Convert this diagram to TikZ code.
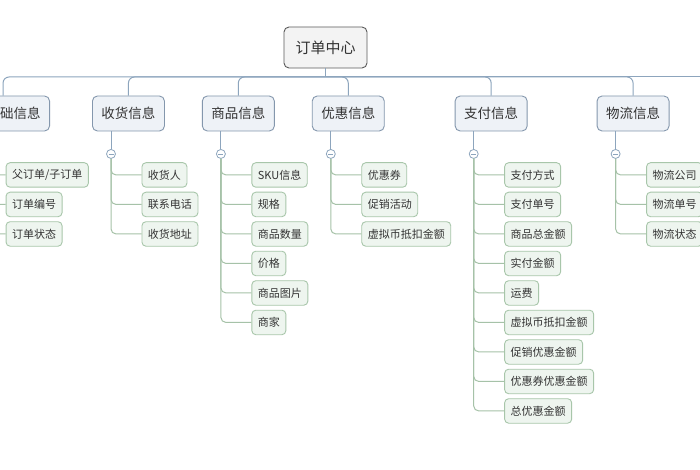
\documentclass[tikz,border=0pt]{standalone}
\usepackage{fontspec}
\setmainfont{Noto Sans CJK SC}
\usetikzlibrary{positioning}
\usepackage{xcolor}
\definecolor{busline}{HTML}{8DA5BD}
\definecolor{topfill}{HTML}{EEF2F7}
\definecolor{topdraw}{HTML}{8497AD}
\definecolor{rootdraw}{HTML}{5A5A5A}
\definecolor{rootfill}{HTML}{F3F3F3}
\definecolor{leaffill}{HTML}{EEF5EF}
\definecolor{leafdraw}{HTML}{A8C6AA}
\definecolor{twigline}{HTML}{A6C2A8}
\definecolor{inktext}{HTML}{333333}

\begin{document}
\begin{tikzpicture}[
    % 1 unit = 1 pixel of the 700x470 canvas, y grows downwards
        x=1pt, y=-1pt,
    % central box
        root/.style={rectangle, draw=rootdraw, fill=rootfill, rounded corners=5pt, line width=0.9pt, minimum width=83pt, minimum height=41pt, inner sep=0pt, text=inktext, font=\fontsize{15}{18}\selectfont},
    % first level boxes
        topic/.style={rectangle, draw=topdraw, fill=topfill, rounded corners=5pt, line width=0.9pt, minimum width=72pt, minimum height=35pt, inner sep=0pt, text=inktext, font=\fontsize{13.5}{16}\selectfont},
    % detail boxes
        leaf/.style={rectangle, draw=leafdraw, fill=leaffill, rounded corners=4pt, line width=0.9pt, minimum height=24.5pt, inner xsep=6pt, inner ysep=0pt, text=inktext, font=\fontsize{11}{13}\selectfont},
    % the small (-) button under each topic
        collapse/.style={circle, draw=busline, fill=white, line width=0.8pt, minimum size=9pt, inner sep=0pt,
            path picture={\draw[busline, line width=0.8pt] ([xshift=-2.5pt]path picture bounding box.center) -- ([xshift=2.5pt]path picture bounding box.center);}},
        bus/.style={draw=busline, line width=1pt, rounded corners=6pt},
        stem/.style={draw=busline, line width=1pt},
        twig/.style={draw=twigline, line width=1pt, rounded corners=5pt}
    ]
    \useasboundingbox (0,0) rectangle (700,470);
    \clip (0,0) rectangle (700,470);
    \fill[white] (0,0) rectangle (700,470);

    % --- ROOT ---
    \node[root] (order) at (325.5,47.5) {订单中心};
    \coordinate (hub) at (325.5,77);
    \coordinate (busend) at (700,77);

    % --- TOPICS ---
    \node[topic, minimum width=93pt, text width=75pt, align=right, anchor=east] (base) at (50,113.5) {础信息};
    \node[topic, right=42pt of base] (recv) {收货信息};
    \node[topic, right=37pt of recv] (goods) {商品信息};
    \node[topic, right=37pt of goods] (promo) {优惠信息};
    \node[topic, right=70pt of promo] (pay) {支付信息};
    \node[topic, right=69pt of pay] (ship) {物流信息};

    % --- BUTTONS ---
    \node[collapse] (kbase) at ([xshift=19pt, yshift=-22.5pt]base.south west) {};
    \node[collapse] (krecv) at ([xshift=19pt, yshift=-22.5pt]recv.south west) {};
    \node[collapse] (kgoods) at ([xshift=19pt, yshift=-22.5pt]goods.south west) {};
    \node[collapse] (kpromo) at ([xshift=19pt, yshift=-22.5pt]promo.south west) {};
    \node[collapse] (kpay) at ([xshift=19pt, yshift=-22.5pt]pay.south west) {};
    \node[collapse] (kship) at ([xshift=19pt, yshift=-22.5pt]ship.south west) {};

    % --- BASE ---
    \node[leaf, anchor=west] (b1) at ([xshift=30.5pt, yshift=-21pt]kbase.center) {父订单/子订单};
    \node[leaf, below=4.1pt of b1.south west, anchor=north west] (b2) {订单编号};
    \node[leaf, below=4.1pt of b2.south west, anchor=north west] (b3) {订单状态};

    % --- RECEIVER ---
    \node[leaf, anchor=west] (r1) at ([xshift=30.5pt, yshift=-21pt]krecv.center) {收货人};
    \node[leaf, below=4.1pt of r1.south west, anchor=north west] (r2) {联系电话};
    \node[leaf, below=4.1pt of r2.south west, anchor=north west] (r3) {收货地址};

    % --- GOODS ---
    \node[leaf, anchor=west] (g1) at ([xshift=30.5pt, yshift=-21pt]kgoods.center) {SKU信息};
    \node[leaf, below=4.1pt of g1.south west, anchor=north west] (g2) {规格};
    \node[leaf, below=4.1pt of g2.south west, anchor=north west] (g3) {商品数量};
    \node[leaf, below=4.1pt of g3.south west, anchor=north west] (g4) {价格};
    \node[leaf, below=4.1pt of g4.south west, anchor=north west] (g5) {商品图片};
    \node[leaf, below=4.1pt of g5.south west, anchor=north west] (g6) {商家};

    % --- DISCOUNTS ---
    \node[leaf, anchor=west] (p1) at ([xshift=30.5pt, yshift=-21pt]kpromo.center) {优惠券};
    \node[leaf, below=4.1pt of p1.south west, anchor=north west] (p2) {促销活动};
    \node[leaf, below=4.1pt of p2.south west, anchor=north west] (p3) {虚拟币抵扣金额};

    % --- PAYMENT ---
    \node[leaf, anchor=west] (m1) at ([xshift=30.5pt, yshift=-21pt]kpay.center) {支付方式};
    \node[leaf, below=4.1pt of m1.south west, anchor=north west] (m2) {支付单号};
    \node[leaf, below=4.1pt of m2.south west, anchor=north west] (m3) {商品总金额};
    \node[leaf, below=4.1pt of m3.south west, anchor=north west] (m4) {实付金额};
    \node[leaf, below=4.1pt of m4.south west, anchor=north west] (m5) {运费};
    \node[leaf, below=4.1pt of m5.south west, anchor=north west] (m6) {虚拟币抵扣金额};
    \node[leaf, below=4.1pt of m6.south west, anchor=north west] (m7) {促销优惠金额};
    \node[leaf, below=4.1pt of m7.south west, anchor=north west] (m8) {优惠券优惠金额};
    \node[leaf, below=4.1pt of m8.south west, anchor=north west] (m9) {总优惠金额};

    % --- SHIPPING ---
    \node[leaf, anchor=west] (s1) at ([xshift=30.5pt, yshift=-21pt]kship.center) {物流公司};
    \node[leaf, below=4.1pt of s1.south west, anchor=north west] (s2) {物流单号};
    \node[leaf, below=4.1pt of s2.south west, anchor=north west] (s3) {物流状态};

    % --- LINKS ---
    \draw[stem] (order.south) -- (hub);
    \draw[stem] (hub) -- (busend);
    \draw[bus] (hub) -| (base.north);
    \draw[bus] (hub) -| (recv.north);
    \draw[bus] (hub) -| (goods.north);
    \draw[bus] (hub) -| (promo.north);
    \draw[bus] (hub) -| (pay.north);
    \draw[bus] (hub) -| (ship.north);

    \draw[stem] (kbase |- base.south) -- (kbase.north);
    \draw[stem] (krecv |- recv.south) -- (krecv.north);
    \draw[stem] (kgoods |- goods.south) -- (kgoods.north);
    \draw[stem] (kpromo |- promo.south) -- (kpromo.north);
    \draw[stem] (kpay |- pay.south) -- (kpay.north);
    \draw[stem] (kship |- ship.south) -- (kship.north);

    \draw[twig] (kbase.south) |- (b1.west);
    \draw[twig] (kbase.south) |- (b2.west);
    \draw[twig] (kbase.south) |- (b3.west);

    \draw[twig] (krecv.south) |- (r1.west);
    \draw[twig] (krecv.south) |- (r2.west);
    \draw[twig] (krecv.south) |- (r3.west);

    \draw[twig] (kgoods.south) |- (g1.west);
    \draw[twig] (kgoods.south) |- (g2.west);
    \draw[twig] (kgoods.south) |- (g3.west);
    \draw[twig] (kgoods.south) |- (g4.west);
    \draw[twig] (kgoods.south) |- (g5.west);
    \draw[twig] (kgoods.south) |- (g6.west);

    \draw[twig] (kpromo.south) |- (p1.west);
    \draw[twig] (kpromo.south) |- (p2.west);
    \draw[twig] (kpromo.south) |- (p3.west);

    \draw[twig] (kpay.south) |- (m1.west);
    \draw[twig] (kpay.south) |- (m2.west);
    \draw[twig] (kpay.south) |- (m3.west);
    \draw[twig] (kpay.south) |- (m4.west);
    \draw[twig] (kpay.south) |- (m5.west);
    \draw[twig] (kpay.south) |- (m6.west);
    \draw[twig] (kpay.south) |- (m7.west);
    \draw[twig] (kpay.south) |- (m8.west);
    \draw[twig] (kpay.south) |- (m9.west);

    \draw[twig] (kship.south) |- (s1.west);
    \draw[twig] (kship.south) |- (s2.west);
    \draw[twig] (kship.south) |- (s3.west);
\end{tikzpicture}
\end{document}
